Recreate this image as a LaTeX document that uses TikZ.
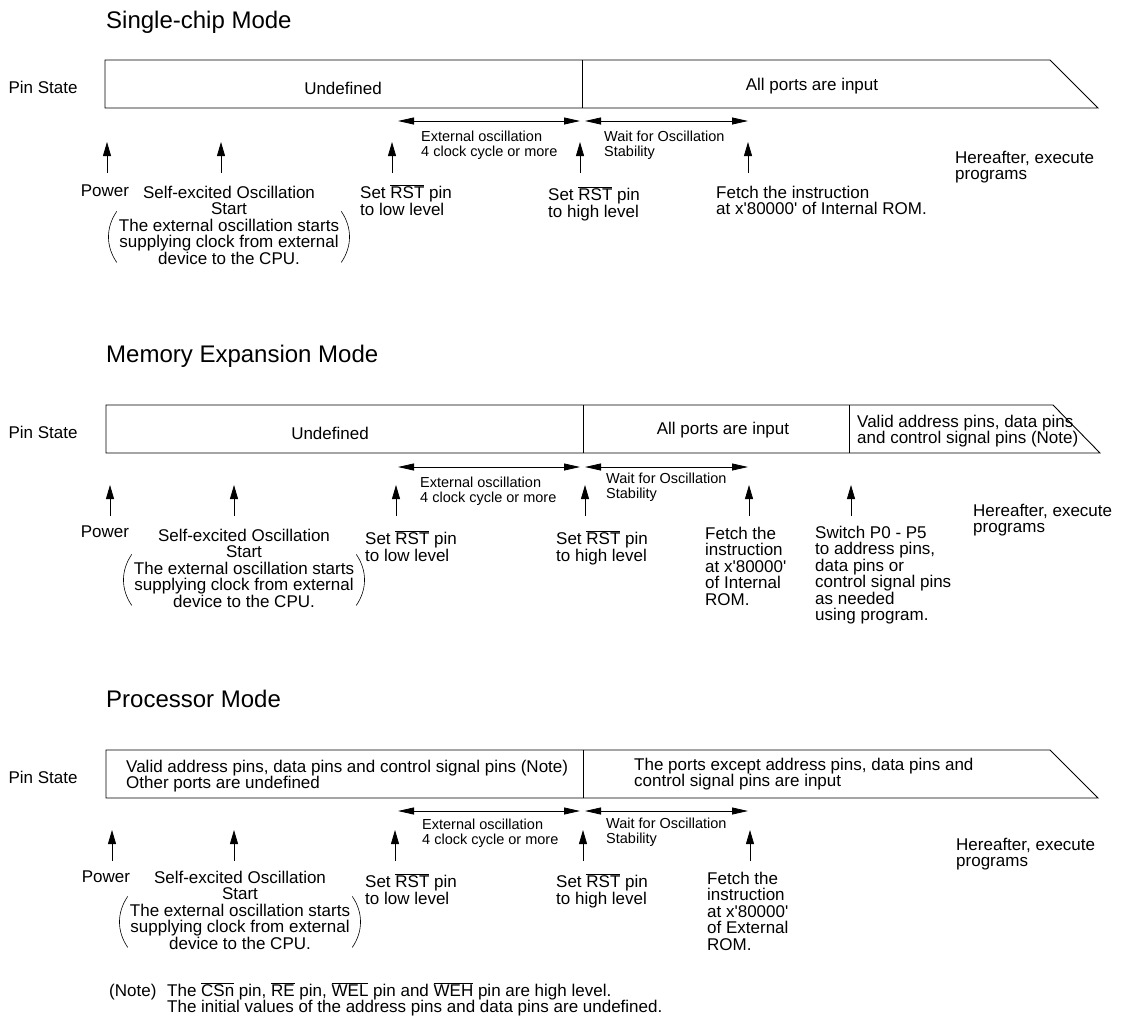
\documentclass[tikz,border=0pt]{standalone}
\usepackage{fontspec}
\setmainfont{Liberation Sans}[Ligatures=TeXOff]
\usetikzlibrary{arrows.meta, calc}
\newcommand{\ovl}[1]{$\overline{\hbox{#1}}$}

\begin{document}
\begin{tikzpicture}[
  x = 1pt, y = -1pt,
  % Text blocks hang from their top edge, no frames.
  txt/.style   = {inner sep=0pt, align=left, anchor=north west,
                  font=\fontsize{17}{16.5}\selectfont},
  mid/.style   = {txt, align=center, anchor=north},
  hint/.style  = {inner sep=0pt, align=left, anchor=north west,
                  font=\fontsize{14.5}{15}\selectfont},
  state/.style = {inner sep=0pt, font=\fontsize{17}{16.5}\selectfont},
  mode/.style  = {inner sep=0pt, anchor=west, font=\fontsize{24}{24}\selectfont},
  bar/.style   = {line width=0.9pt, line join=miter},
  up/.style    = {line width=0.8pt, -{Triangle[length=14pt,width=8pt]}},
  span/.style  = {line width=0.8pt,
                  {Triangle[length=16pt,width=7pt]}-{Triangle[length=16pt,width=7pt]}},
]
\useasboundingbox (0,0) rectangle (1124,1020);

% --- Single-chip Mode
\begin{scope}[shift={(0,60)}]
\node[mode] (t1) at (106,-38) {Single-chip Mode};
\node[state] (pin1) at (43,27) {Pin State};
\draw[bar] (105,0) -- (1050,0) -- (1098,48) -- (105,48) -- cycle;
\draw[bar] (582,0) -- (582,48);
\node[state] (st1a) at (343,28) {Undefined};
\node[state] (st1b) at (812,26) {All ports are input};
\coordinate (r1a) at (398,61); \coordinate (r1b) at (580,61);
\coordinate (r1c) at (585,61); \coordinate (r1d) at (748,61);
\draw[span] (r1a) -- (r1b);
\draw[span] (r1c) -- (r1d);
\node[hint] (ext1) at (421,70.5) {External oscillation\\4 clock cycle or more};
\node[hint] (wait1) at (604,70.5) {Wait for Oscillation\\Stability};
\foreach \x [count=\i] in {107,221,392,580,748} {
  \coordinate (foot1-\i) at (\x,113);
  \coordinate (tip1-\i) at (\x,82);
  \draw[up] (foot1-\i) -- (tip1-\i);
}
\node[mid] (pw1) at (105,124.5) {Power};
\node[mid] (osc1) at (229,125.5) {Self-excited Oscillation\\Start\\The external oscillation starts\\supplying clock from external\\device to the CPU.};
\node[txt] (lo1) at (360,124.5) {Set \ovl{RST} pin\\to low level};
\node[txt] (hi1) at (548,126.5) {Set \ovl{RST} pin\\to high level};
\node[txt] (fe1) at (716,125.5) {Fetch the instruction\\at x'80000' of Internal ROM.};
\node[txt] (go1) at (955,90.5) {Hereafter, execute\\programs};
\end{scope}

% --- Memory Expansion Mode
\begin{scope}[shift={(0,405)}]
\node[mode] (t2) at (106,-49) {Memory Expansion Mode};
\node[state] (pin2) at (43,27) {Pin State};
\draw[bar] (106,0) -- (1053,0) -- (1100,48) -- (106,48) -- cycle;
\draw[bar] (583,0) -- (583,48);
\draw[bar] (849,0) -- (849,48);
\node[state] (st2a) at (330,28) {Undefined};
\node[state] (st2b) at (723,25) {All ports are input};
\node[txt] (st2c) at (857,9.5) {Valid address pins, data pins\\and control signal pins (Note)};
\coordinate (r2a) at (398,62); \coordinate (r2b) at (580,62);
\coordinate (r2c) at (585,62); \coordinate (r2d) at (748,62);
\draw[span] (r2a) -- (r2b);
\draw[span] (r2c) -- (r2d);
\node[hint] (ext2) at (420,71.5) {External oscillation\\4 clock cycle or more};
\node[hint] (wait2) at (606,68) {Wait for Oscillation\\Stability};
\foreach \x [count=\i] in {110,234,396,585,749,851} {
  \coordinate (foot2-\i) at (\x,111);
  \coordinate (tip2-\i) at (\x,80);
  \draw[up] (foot2-\i) -- (tip2-\i);
}
\node[mid] (pw2) at (105,120.5) {Power};
\node[mid] (osc2) at (244,123.5) {Self-excited Oscillation\\Start\\The external oscillation starts\\supplying clock from external\\device to the CPU.};
\node[txt] (lo2) at (365,125.5) {Set \ovl{RST} pin\\to low level};
\node[txt] (hi2) at (556,125.5) {Set \ovl{RST} pin\\to high level};
\node[txt] (fe2) at (705,121.5) {Fetch the\\instruction\\at x'80000'\\of Internal\\ROM.};
\node[txt] (sw2) at (815,120.5) {Switch P0 - P5\\to address pins,\\data pins or\\control signal pins\\as needed\\using program.};
\node[txt] (go2) at (973,98.5) {Hereafter, execute\\programs};
\end{scope}

% --- Processor Mode
\begin{scope}[shift={(0,750)}]
\node[mode] (t3) at (106,-51) {Processor Mode};
\node[state] (pin3) at (43,27) {Pin State};
\draw[bar] (106,0) -- (1050,0) -- (1098,48) -- (106,48) -- cycle;
\draw[bar] (583,0) -- (583,48);
\node[txt] (st3a) at (126,9.5) {Valid address pins, data pins and control signal pins (Note)\\Other ports are undefined};
\node[txt] (st3b) at (634,7.5) {The ports except address pins, data pins and\\control signal pins are input};
\coordinate (r3a) at (398,61); \coordinate (r3b) at (580,61);
\coordinate (r3c) at (585,61); \coordinate (r3d) at (748,61);
\draw[span] (r3a) -- (r3b);
\draw[span] (r3c) -- (r3d);
\node[hint] (ext3) at (422,69) {External oscillation\\4 clock cycle or more};
\node[hint] (wait3) at (606,68) {Wait for Oscillation\\Stability};
\foreach \x [count=\i] in {112,234,395,583,750} {
  \coordinate (foot3-\i) at (\x,111);
  \coordinate (tip3-\i) at (\x,80);
  \draw[up] (foot3-\i) -- (tip3-\i);
}
\node[mid] (pw3) at (106,120.5) {Power};
\node[mid] (osc3) at (240,120.5) {Self-excited Oscillation\\Start\\The external oscillation starts\\supplying clock from external\\device to the CPU.};
\node[txt] (lo3) at (365,123.5) {Set \ovl{RST} pin\\to low level};
\node[txt] (hi3) at (556,123.5) {Set \ovl{RST} pin\\to high level};
\node[txt] (fe3) at (707,121.5) {Fetch the\\instruction\\at x'80000'\\of External\\ROM.};
\node[txt] (go3) at (956,87.5) {Hereafter, execute\\programs};
\node[txt] (nt3) at (109,234) {(Note)};
\node[txt] (nt3b) at (167,232) {The \ovl{CSn} pin, \ovl{RE} pin, \ovl{WEL} pin and \ovl{WEH} pin are high level.\\The initial values of the address pins and data pins are undefined.};
\end{scope}

% --- brackets round the last three lines of each oscillation note
\foreach \n in {osc1,osc2,osc3} {
  \draw[line width=0.6pt] ($(\n.south west)+(-2,-53)$) .. controls +(-11,16) and +(-11,-16) .. ($(\n.south west)+(-2,-2)$);
  \draw[line width=0.6pt] ($(\n.south east)+(2,-53)$) .. controls +(11,16) and +(11,-16) .. ($(\n.south east)+(2,-2)$);
}

\end{tikzpicture}
\end{document}
